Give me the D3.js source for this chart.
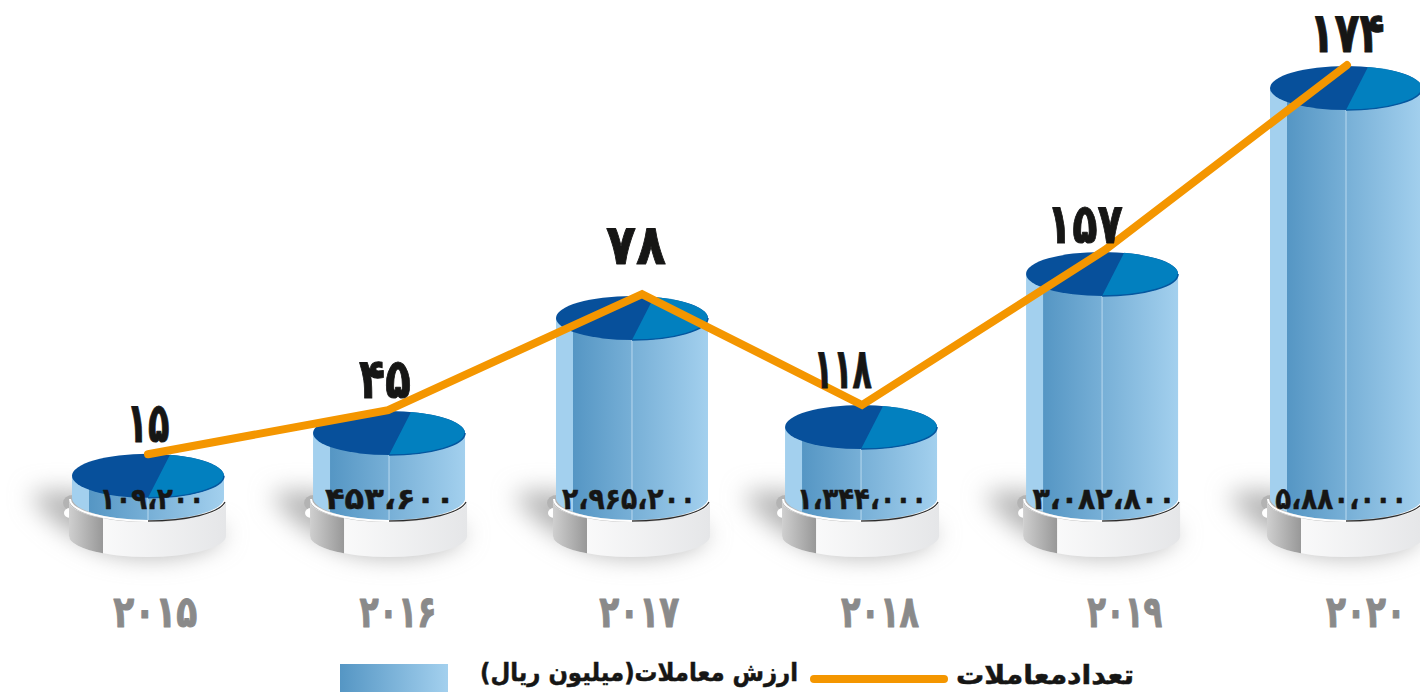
<!DOCTYPE html>
<html lang="fa"><head><meta charset="utf-8">
<script src="https://cdn.jsdelivr.net/npm/d3@7/dist/d3.min.js"></script>
<style>html,body{margin:0;padding:0;background:#fff;overflow:hidden}svg{display:block}
text{font-family:"DejaVu Sans",sans-serif;font-weight:700}</style></head><body>
<div id="chart"></div>
<script>
const years = ["۲۰۱۵","۲۰۱۶","۲۰۱۷","۲۰۱۸","۲۰۱۹","۲۰۲۰"];
const valueLabels = ["۱۰۹،۲۰۰","۴۵۳،۶۰۰","۲،۹۶۵،۲۰۰","۱،۳۴۴،۰۰۰","۳،۰۸۲،۸۰۰","۵،۸۸۰،۰۰۰"];
const countLabels = ["۱۵","۴۵","۷۸","۱۱۸","۱۵۷","۱۷۴"];
// The infographic is not drawn to scale: heights as drawn, in percent of plot height
const barLevels = [9.6,18.9,43.9,20.2,53.5,93.9];
const lineLevels = [14.3,23.9,49.1,25,58.7,98.9];
const countLabelLevels = [17,26.5,55.7,28.7,60.2,101.7];
// Slot positions along the axis as drawn (hand-placed in the original)
const barSlots = [0,1.006,2.02,2.976,3.982,5];
const lineSlots = [0,1.002,2.062,2.98,3.994,5.004];
const countSlots = [0,0.989,2.037,2.9,3.91,5.004];
const yearSlots = [0.03,1.043,2.05,3.055,4.077,5.083];
const valueSlots = [0.017,1.01,2.008,2.98,3.99,4.98];
// Text run widths as drawn
const countWidths = [43,52,60,58,76,75];
const yearWidths = [84,77,80,78,75,80];
const valueWidths = [105,130,134,130,143,132];
const legendBar = "ارزش معاملات(میلیون ریال)";
const legendLine = "تعدادمعاملات";

const W=1420,H=692;
const x=d3.scaleLinear().domain([0,5]).range([148,1346]);
const y=d3.scaleLinear().domain([0,100]).range([520,60]);
const RX=76,RY=22,BOTTOM=498;
const svg=d3.select("#chart").append("svg").attr("width",W).attr("height",H);
const defs=svg.append("defs");
function grad(id,stops){const g=defs.append("linearGradient").attr("id",id);
  stops.forEach(s=>g.append("stop").attr("offset",s[0]).attr("stop-color",s[1]));}
grad("cyl",[[0,"#5596c4"],[1,"#a3d0ee"]]);
grad("baseL",[[0,"#cfcfcf"],[1,"#989898"]]);
grad("baseR",[[0,"#ffffff"],[1,"#e5e6e8"]]);
defs.append("filter").attr("id","blur").attr("x","-40%").attr("y","-60%").attr("width","180%").attr("height","220%")
  .append("feGaussianBlur").attr("stdDeviation",12);

barSlots.forEach((s,i)=>{
  const cx=x(s), top=y(barLevels[i]), g=svg.append("g");
  // cast shadow
  g.append("path").attr("filter","url(#blur)").attr("fill","#b4b4b4")
   .attr("d",`M${cx-118},${BOTTOM-4} C${cx-95},${BOTTOM-10} ${cx-60},${BOTTOM-6} ${cx},${BOTTOM+6} L${cx+78},${BOTTOM+34} C${cx+60},${BOTTOM+64} ${cx-30},${BOTTOM+66} ${cx-62},${BOTTOM+44} C${cx-85},${BOTTOM+32} ${cx-105},${BOTTOM+16} ${cx-118},${BOTTOM-4}Z`);
  g.append("ellipse").attr("cx",cx-75).attr("cy",BOTTOM+5).attr("rx",10).attr("ry",8).attr("fill","#b3b3b3");
  g.append("ellipse").attr("cx",cx-78).attr("cy",BOTTOM+15).attr("rx",6).attr("ry",5).attr("fill","#fff");
  // base drum
  const bl=cx-79,br=cx+78,bTop=BOTTOM+3,bH=35,split=cx-45;
  g.append("path").attr("fill","url(#baseR)")
   .attr("d",`M${bl},${bTop} A78.5,21 0 0 0 ${br},${bTop} L${br},${bTop+bH} A78.5,21 0 0 1 ${bl},${bTop+bH}Z`);
  const yAt=(px,base)=>base+21*Math.sqrt(1-Math.pow((px-(bl+br)/2)/78.5,2));
  g.append("path").attr("fill","url(#baseL)")
   .attr("d",`M${bl},${bTop} A78.5,21 0 0 0 ${split},${yAt(split,bTop)} L${split},${yAt(split,bTop+bH)} A78.5,21 0 0 1 ${bl},${bTop+bH}Z`);
  // cylinder
  const L=cx-RX,R=cx+RX;
  const body=`M${L},${top} L${R},${top} L${R},${BOTTOM} A${RX},${RY} 0 0 1 ${L},${BOTTOM}Z`;
  const clipId="c"+i;
  defs.append("clipPath").attr("id",clipId).append("path").attr("d",body);
  g.append("path").attr("d",body).attr("fill","#a3d0ee");
  g.append("rect").attr("clip-path",`url(#${clipId})`).attr("x",L+17).attr("y",top).attr("width",RX*2-17).attr("height",BOTTOM+RY-top).attr("fill","url(#cyl)");
  g.append("line").attr("clip-path",`url(#${clipId})`).attr("x1",cx).attr("x2",cx).attr("y1",top).attr("y2",BOTTOM+RY).attr("stroke","#b9d9ef").attr("stroke-width",1);
  // rim highlights
  g.append("path").attr("fill","none").attr("stroke","#fff").attr("stroke-width",2)
   .attr("d",`M${L-2},${BOTTOM+1} A${RX+2},${RY} 0 0 0 ${cx},${BOTTOM+RY+1}`);
  g.append("path").attr("fill","none").attr("stroke","#2b2b2b").attr("stroke-width",1.2)
   .attr("d",`M${cx},${BOTTOM+RY+1} A${RX+2},${RY} 0 0 0 ${R+1},${BOTTOM+4}`);
  // top face
  g.append("ellipse").attr("cx",cx).attr("cy",top).attr("rx",RX).attr("ry",RY).attr("fill","#07509b");
  const wx=cx+22, wy=top-RY*Math.sqrt(1-Math.pow(22/RX,2));
  g.append("path").attr("fill","#0280bf")
   .attr("d",`M${wx},${wy} A${RX},${RY} 0 0 1 ${R},${top} A${RX},${RY} 0 0 1 ${cx},${top+RY}Z`);
  g.append("path").attr("fill","none").attr("stroke","#05579f").attr("stroke-width",1.5)
   .attr("d",`M${R},${top} A${RX},${RY} 0 0 1 ${cx},${top+RY}`);
});

// line
const pts=lineSlots.map((s,i)=>[x(s),y(lineLevels[i])]);
svg.append("path").attr("d",d3.line()(pts)).attr("fill","none").attr("stroke","#f49600")
  .attr("stroke-width",8).attr("stroke-linecap","round").attr("stroke-linejoin","miter");

// text
function label(t,px,py,size,w,fill,sw){
  return svg.append("text").attr("x",px).attr("y",py).attr("text-anchor","middle")
    .attr("direction","ltr").attr("font-size",size).attr("fill",fill)
    .attr("stroke",fill).attr("stroke-width",sw).attr("stroke-linejoin","round")
    .attr("textLength",w).attr("lengthAdjust","spacingAndGlyphs").text(t);
}
valueLabels.forEach((t,i)=>label(t,x(valueSlots[i]),509,30,valueWidths[i],"#161615",0.5));
countLabels.forEach((t,i)=>label(t,x(countSlots[i]),y(countLabelLevels[i]),56,countWidths[i],"#161615",1));
years.forEach((t,i)=>label(t,x(yearSlots[i]),627,44,yearWidths[i],"#8a8a8a",1));

// legend
svg.append("rect").attr("x",340).attr("y",664).attr("width",108).attr("height",28).attr("fill","url(#cyl)");
svg.append("text").attr("x",639).attr("y",681).attr("text-anchor","middle").attr("direction","rtl")
  .attr("font-size",25).attr("textLength",318).attr("lengthAdjust","spacingAndGlyphs").attr("fill","#161615").attr("stroke","#161615").attr("stroke-width",0.5).text(legendBar);
svg.append("line").attr("x1",814).attr("x2",944).attr("y1",679).attr("y2",679).attr("stroke","#f49600").attr("stroke-width",8).attr("stroke-linecap","round");
svg.append("text").attr("x",1045).attr("y",684).attr("text-anchor","middle").attr("direction","rtl")
  .attr("font-size",26).attr("textLength",178).attr("lengthAdjust","spacingAndGlyphs").attr("fill","#161615").attr("stroke","#161615").attr("stroke-width",0.5).text(legendLine);
</script></body></html>
